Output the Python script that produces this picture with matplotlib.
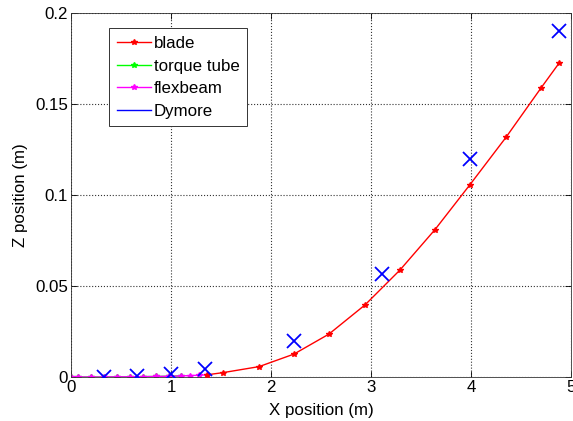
import matplotlib
matplotlib.use("Agg")
import matplotlib.pyplot as plt
from matplotlib.lines import Line2D

plt.rcParams['font.family'] = ['Liberation Sans', 'DejaVu Sans']

blade_x = [1.36, 1.52, 1.88, 2.23, 2.58, 2.94, 3.29, 3.64, 3.99, 4.35, 4.70, 4.88]
blade_z = [0.0012, 0.0024, 0.0057, 0.0126, 0.0236, 0.0396, 0.0588, 0.0810, 0.1057, 0.1317, 0.1588, 0.1724]

torque_x = [0.0, 0.07, 0.20, 0.33, 0.46, 0.59, 0.72, 0.85, 0.98, 1.10]
torque_z = [0.0, 0.0, 0.0, 0.0, 0.0001, 0.0001, 0.0002, 0.0003, 0.0004, 0.0006]

flex_x = [0.0, 0.07, 0.20, 0.33, 0.46, 0.59, 0.72, 0.85, 0.98, 1.10, 1.19, 1.28, 1.36]
flex_z = [0.0, 0.0, 0.0, 0.0, 0.0001, 0.0001, 0.0002, 0.0003, 0.0004, 0.0006, 0.0008, 0.0010, 0.0012]

dym_x = [0.33, 0.66, 1.00, 1.34, 2.23, 3.11, 3.99, 4.88]
dym_z = [0.0002, 0.0004, 0.0015, 0.0045, 0.0198, 0.0566, 0.1198, 0.1903]

FS = 12.2

fig = plt.figure(figsize=(5.73, 4.21), dpi=100)
ax = fig.add_axes([71/573, 44/421, 500/573, 364/421])

ax.plot(blade_x, blade_z, color='red', marker='*', markersize=4, linewidth=1, zorder=3)
ax.plot(torque_x, torque_z, color='#00ff00', marker='*', markersize=4, linewidth=1, zorder=2)
ax.plot(flex_x, flex_z, color='#ff00ff', marker='*', markersize=4, linewidth=1, zorder=2.5)
ax.plot(dym_x, dym_z, color='blue', marker='x', markersize=10, markeredgewidth=1.3, linestyle='none', zorder=4)

ax.set_xlim(0, 5)
ax.set_ylim(0, 0.2)
ax.set_xticks([0, 1, 2, 3, 4, 5])
ax.set_yticks([0, 0.05, 0.1, 0.15, 0.2])
ax.set_yticklabels(['0', '0.05', '0.1', '0.15', '0.2'])
ax.tick_params(direction='in', labelsize=FS, length=4, width=0.6, top=True, right=True, pad=2)
ax.grid(True, linestyle=':', color='#333333', linewidth=0.8)
for s in ax.spines.values():
    s.set_linewidth(0.6)
    s.set_color('#333333')

ax.set_xlabel('X position (m)', fontsize=FS, labelpad=6)
ax.set_ylabel('Z position (m)', fontsize=FS, labelpad=5)

handles = [
    Line2D([], [], color='red', marker='*', markersize=4, linewidth=1),
    Line2D([], [], color='#00ff00', marker='*', markersize=4, linewidth=1),
    Line2D([], [], color='#ff00ff', marker='*', markersize=4, linewidth=1),
    Line2D([], [], color='blue', linewidth=1),
]
leg = ax.legend(handles, ['blade', 'torque tube', 'flexbeam', 'Dymore'],
                loc='upper left', bbox_to_anchor=(0.076, 0.958), fontsize=FS,
                fancybox=False, framealpha=1, edgecolor='#333333',
                handlelength=2.0, handletextpad=0.2, labelspacing=0.45,
                borderpad=0.45, borderaxespad=0)
leg.get_frame().set_linewidth(0.7)

fig.savefig('out.png', dpi=100)
